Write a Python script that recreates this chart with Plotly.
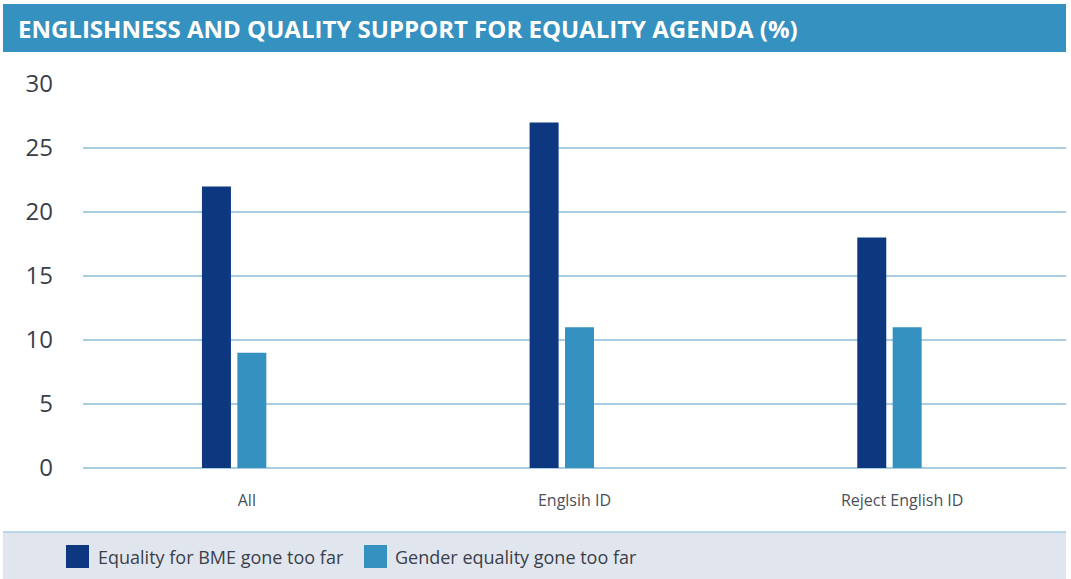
import plotly.graph_objects as go

# data
categories = ["All", "Englsih ID", "Reject English ID"]
series_names = ["Equality for BME gone too far", "Gender equality gone too far"]
bme_values = [22, 27, 18]
gender_values = [9, 11, 11]
y_ticks = [0, 5, 10, 15, 20, 25, 30]

W, H = 1071, 579
L, R, T, B = 83, 5, 84, 111
PW, PH = W - L - R, H - T - B


def px_x(p):
    return (p - L) / PW


def px_y(p):
    return (H - B - p) / PH


DARK = "#0d3880"
LIGHT = "#3591bf"
GRID = "#a9cde3"
BAND = "#e1e6ee"
TEXT = "#3a3f4a"

# bars sit a little left of the category label in the original
BAR_W = 0.0885
fig = go.Figure()
fig.add_trace(go.Bar(x=categories, y=bme_values, name=series_names[0],
                     width=BAR_W, offset=-0.137,
                     marker=dict(color=DARK, line_width=0), showlegend=False))
fig.add_trace(go.Bar(x=categories, y=gender_values, name=series_names[1],
                     width=BAR_W, offset=-0.029,
                     marker=dict(color=LIGHT, line_width=0), showlegend=False))

shapes = [
    # title bar
    dict(type="rect", xref="paper", yref="paper", x0=px_x(3), x1=px_x(1066),
         y0=px_y(52), y1=px_y(4), fillcolor=LIGHT, line_width=0, layer="below"),
    # bottom band
    dict(type="rect", xref="paper", yref="paper", x0=px_x(3), x1=px_x(1066),
         y0=px_y(579), y1=px_y(532), fillcolor=BAND, line_width=0, layer="below"),
    dict(type="line", xref="paper", yref="paper", x0=px_x(3), x1=px_x(1066),
         y0=px_y(532), y1=px_y(532), line=dict(color=GRID, width=1.5)),
]

annotations = [
    dict(text="<b>ENGLISHNESS AND QUALITY SUPPORT FOR EQUALITY AGENDA (%)</b>",
         xref="paper", yref="paper", x=px_x(16), y=px_y(29), xanchor="left",
         yanchor="middle", showarrow=False,
         font=dict(family="Open Sans", size=24, color="white")),
]

# manual legend in the grey band
legend_pos = [(66, 96), (364, 393)]
for (mx, tx), name, col in zip(legend_pos, series_names, [DARK, LIGHT]):
    shapes.append(dict(type="rect", xref="paper", yref="paper",
                       x0=px_x(mx), x1=px_x(mx + 23), y0=px_y(568), y1=px_y(545),
                       fillcolor=col, line_width=0))
    annotations.append(dict(text=name, xref="paper", yref="paper", x=px_x(tx),
                            y=px_y(557), xanchor="left", yanchor="middle",
                            showarrow=False,
                            font=dict(family="Open Sans", size=18, color=TEXT)))

fig.update_layout(
    width=W, height=H,
    margin=dict(l=L, r=R, t=T, b=B),
    paper_bgcolor="white", plot_bgcolor="white",
    barmode="overlay",
    shapes=shapes, annotations=annotations,
    showlegend=False,
    font=dict(family="Open Sans", color=TEXT),
)
fig.update_xaxes(showgrid=False, showline=False, zeroline=False,
                 ticks="", ticklabelstandoff=21,
                 tickfont=dict(size=16, color="#4a4f5a"))
fig.update_yaxes(range=[0, 30], tickvals=y_ticks, showgrid=True,
                 gridcolor=GRID, gridwidth=1.5, zeroline=True,
                 zerolinecolor=GRID, zerolinewidth=1.5, showline=False,
                 ticks="", ticklabelstandoff=29,
                 tickfont=dict(size=24, color=TEXT))

fig.write_html("out.html", config={"displayModeBar": False},
               post_script="document.body.style.margin='0';")
